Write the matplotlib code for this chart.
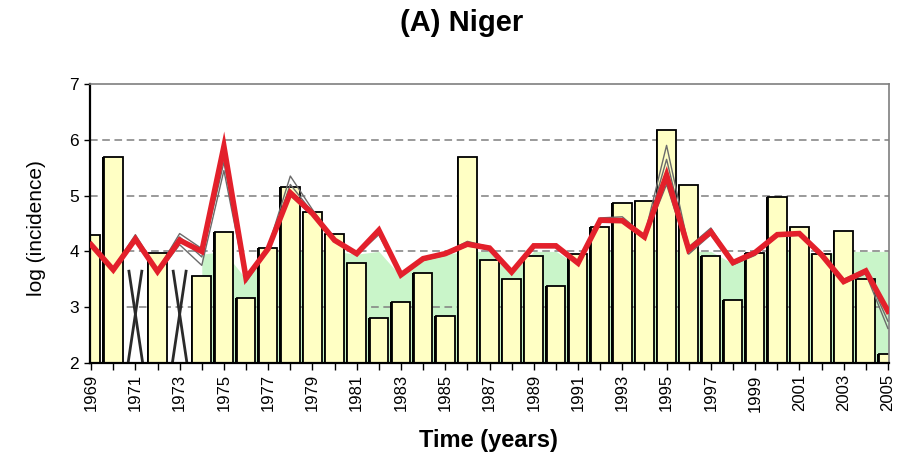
import numpy as np
import matplotlib
matplotlib.use("Agg")
import matplotlib.pyplot as plt
from matplotlib import font_manager

plt.rcParams['font.family'] = ['Liberation Sans', 'DejaVu Sans']


def narrow_family():
    try:
        font_manager.findfont('Liberation Sans Narrow', fallback_to_default=False)
        return ['Liberation Sans Narrow', 'Liberation Sans']
    except Exception:
        return None


years = list(range(1969, 2006))

# observed log incidence per year (nan = no data)
observed = [4.29, 5.70, np.nan, 3.98, np.nan, 3.56, 4.35, 3.16, 4.07, 5.15,
            4.71, 4.32, 3.80, 2.80, 3.10, 3.61, 2.84, 5.70, 3.85, 3.50,
            3.92, 3.38, 3.95, 4.44, 4.86, 4.90, 6.18, 5.19, 3.92, 3.13,
            3.98, 4.97, 4.43, 3.96, 4.37, 3.50, 2.17]

# model fit (mean)
model = [4.12, 3.67, 4.22, 3.64, 4.20, 4.00, 5.88, 3.52, 4.05, 5.05,
         4.68, 4.20, 3.96, 4.38, 3.58, 3.87, 3.96, 4.13, 4.06, 3.63,
         4.10, 4.10, 3.79, 4.56, 4.55, 4.26, 5.37, 4.03, 4.35, 3.80,
         3.98, 4.30, 4.32, 3.94, 3.46, 3.65, 2.93]

# individual model runs
run_hi = [4.15, 3.70, 4.30, 3.66, 4.32, 4.05, 5.80, 3.55, 4.08, 5.35,
          4.75, 4.22, 3.98, 4.40, 3.60, 3.89, 3.98, 4.18, 4.08, 3.65,
          4.12, 4.12, 3.81, 4.60, 4.62, 4.28, 5.90, 4.08, 4.42, 3.82,
          4.00, 4.33, 4.34, 3.96, 3.50, 3.68, 2.90]
run_lo = [4.10, 3.64, 4.18, 3.60, 4.12, 3.75, 5.45, 3.45, 4.02, 5.00,
          4.64, 4.17, 3.93, 4.30, 3.55, 3.84, 3.93, 4.10, 4.03, 3.60,
          4.07, 4.07, 3.76, 4.52, 4.52, 4.22, 5.20, 3.95, 4.30, 3.76,
          3.93, 4.27, 4.29, 3.90, 3.43, 3.60, 2.62]
run_mid = [4.13, 3.68, 4.26, 3.63, 4.26, 3.90, 5.60, 3.50, 4.05, 5.20,
           4.70, 4.20, 3.95, 4.35, 3.57, 3.86, 3.95, 4.15, 4.05, 3.62,
           4.09, 4.09, 3.78, 4.55, 4.58, 4.25, 5.65, 4.00, 4.38, 3.79,
           3.96, 4.30, 4.31, 3.93, 3.47, 3.63, 2.75]

# shaded band (top edge)
band = [np.nan, np.nan, np.nan, np.nan, np.nan, 3.95, 4.00, 3.50, 4.00, 4.00,
        4.00, 4.00, 3.95, 4.00, 3.55, 3.85, 3.95, 4.00, 4.00, 3.60,
        4.00, 4.00, 3.75, 4.00, 4.00, 4.00, 4.00, 4.00, 4.00, 3.78,
        3.95, 4.00, 4.00, 3.95, 4.00, 4.00, 4.00]

missing_level = 3.67
x_ticks_labelled = list(range(1969, 2006, 2))

yrs = np.array(years, dtype=float)
obs = np.array(observed)

fig = plt.figure(figsize=(9.01, 4.54), dpi=100)
ax = fig.add_axes([0.0999, 0.2004, 0.8868, 0.6146])

ax.set_xlim(1968.95, 2005.05)
ax.set_ylim(2, 7)

# band
ax.fill_between(yrs, 2, np.array(band), color='#c9f5c9', lw=0, zorder=1)

# gridlines
for g in [3, 4, 5, 6]:
    ax.axhline(g, color='#7f7f7f', lw=1.1, ls=(0, (5, 3)), zorder=1.5)

# bars with darker left edge
valid = ~np.isnan(obs)
bw = 0.84
ax.bar(yrs[valid] - 0.07, obs[valid] - 2, bottom=2, width=bw, color='black',
       lw=0, zorder=2)
ax.bar(yrs[valid], obs[valid] - 2, bottom=2, width=bw, color='#ffffc4',
       edgecolor='black', lw=1.3, zorder=2.1)

# crosses for years without data
for y in yrs[~valid]:
    ax.plot([y - 0.3, y + 0.33], [missing_level, 2], color='#2a2a2a', lw=2.0,
            zorder=2.2, solid_capstyle='butt')
    ax.plot([y - 0.33, y + 0.3], [2, missing_level], color='#2a2a2a', lw=2.0,
            zorder=2.2, solid_capstyle='butt')

# model runs
for run in (run_hi, run_mid, run_lo):
    ax.plot(yrs, run, color='#6b6b6b', lw=1.0, zorder=3)

ax.plot(yrs, model, color='#e3202b', lw=4.0, zorder=4, solid_joinstyle='miter')

# axes styling
ax.set_xticks(years)
labels = ax.set_xticklabels([str(y) if y in x_ticks_labelled else '' for y in years],
                            rotation=90)
nf = narrow_family()
for t in labels:
    if nf:
        t.set_family(nf)
        t.set_fontsize(13)
    else:
        t.set_fontsize(12)
ax.set_yticks([2, 3, 4, 5, 6, 7])
ax.set_yticklabels(['2', '3', '4', '5', '6', '7'], fontsize=12.5)
ax.tick_params(axis='x', length=5, width=1.0, direction='out', pad=3)
ax.tick_params(axis='y', length=4, width=1.0, direction='out', pad=4)

for side in ('left', 'bottom'):
    ax.spines[side].set_color('black')
    ax.spines[side].set_linewidth(1.6)
for side in ('top', 'right'):
    ax.spines[side].set_color('#7f7f7f')
    ax.spines[side].set_linewidth(1.2)

fig.text(462 / 901, 1 - 23 / 454, '(A) Niger', ha='center', va='center',
         fontsize=21, fontweight='bold')
fig.text(488 / 901, 1 - 440 / 454, 'Time (years)', ha='center', va='center',
         fontsize=17, fontweight='bold')
fig.text(36 / 901, 1 - 228 / 454, 'log (incidence)', ha='center', va='center',
         fontsize=15, rotation=90)

fig.savefig('out.png', dpi=100)
